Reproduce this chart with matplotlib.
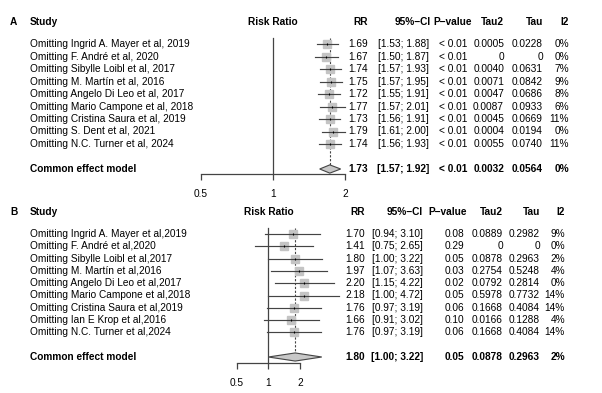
import matplotlib
matplotlib.use("Agg")
import matplotlib.pyplot as plt
import matplotlib.transforms as mtransforms

plt.rcParams['font.family'] = ['Liberation Sans', 'DejaVu Sans']

# ---------------- data ----------------
studies_A = ["Omitting Ingrid A. Mayer et al, 2019", "Omitting F. André et al, 2020",
             "Omitting Sibylle Loibl et al, 2017", "Omitting M. Martín et al, 2016",
             "Omitting Angelo Di Leo et al, 2017", "Omitting Mario Campone et al, 2018",
             "Omitting Cristina Saura et al, 2019", "Omitting S. Dent et al, 2021",
             "Omitting N.C. Turner et al, 2024"]
rr_A = [1.69, 1.67, 1.74, 1.75, 1.72, 1.77, 1.73, 1.79, 1.74]
lo_A = [1.53, 1.50, 1.57, 1.57, 1.55, 1.57, 1.56, 1.61, 1.56]
hi_A = [1.88, 1.87, 1.93, 1.95, 1.91, 2.01, 1.91, 2.00, 1.93]
p_A = ["< 0.01"] * 9
tau2_A = ["0.0005", "0", "0.0040", "0.0071", "0.0047", "0.0087", "0.0045", "0.0004", "0.0055"]
tau_A = ["0.0228", "0", "0.0631", "0.0842", "0.0686", "0.0933", "0.0669", "0.0194", "0.0740"]
i2_A = ["0%", "0%", "7%", "9%", "8%", "6%", "11%", "0%", "11%"]
common_A = dict(rr=1.73, lo=1.57, hi=1.92, p="< 0.01", tau2="0.0032", tau="0.0564", i2="0%")

studies_B = ["Omitting Ingrid A. Mayer et al,2019", "Omitting F. André et al,2020",
             "Omitting Sibylle Loibl et al,2017", "Omitting M. Martín et al,2016",
             "Omitting Angelo Di Leo et al,2017", "Omitting Mario Campone et al,2018",
             "Omitting Cristina Saura et al,2019", "Omitting Ian E Krop et al,2016",
             "Omitting N.C. Turner et al,2024"]
rr_B = [1.70, 1.41, 1.80, 1.97, 2.20, 2.18, 1.76, 1.66, 1.76]
lo_B = [0.94, 0.75, 1.00, 1.07, 1.15, 1.00, 0.97, 0.91, 0.97]
hi_B = [3.10, 2.65, 3.22, 3.63, 4.22, 4.72, 3.19, 3.02, 3.19]
p_B = ["0.08", "0.29", "0.05", "0.03", "0.02", "0.05", "0.06", "0.10", "0.06"]
tau2_B = ["0.0889", "0", "0.0878", "0.2754", "0.0792", "0.5978", "0.1668", "0.0166", "0.1668"]
tau_B = ["0.2982", "0", "0.2963", "0.5248", "0.2814", "0.7732", "0.4084", "0.1288", "0.4084"]
i2_B = ["9%", "0%", "2%", "4%", "0%", "14%", "14%", "4%", "14%"]
common_B = dict(rr=1.80, lo=1.00, hi=3.22, p="0.05", tau2="0.0878", tau="0.2963", i2="2%")

ticks = [0.5, 1, 2]
tick_labels = ["0.5", "1", "2"]
headers = ["RR", "95%\u2212CI", "P\u2212value", "Tau2", "Tau", "I2"]

# ---------------- layout ----------------
W, H = 602, 393
fig = plt.figure(figsize=(W / 100, H / 100), dpi=100)
FS = 7.3
SQ_COL = "#C4C4C4"
LN_COL = "#444444"


def panel(label, studies, rr, lo, hi, pv, tau2, tau, i2, common,
          ax_px, xlim, ylim, cols, hcols, rr_center, sq_size):
    left, right, top, bottom = ax_px
    ax = fig.add_axes([left / W, 1 - bottom / H, (right - left) / W, (bottom - top) / H])
    ax.set_xscale("log")
    ax.set_xlim(*xlim)
    ax.set_ylim(*ylim)
    ax.patch.set_alpha(0)
    for s in ["top", "right", "left"]:
        ax.spines[s].set_visible(False)
    ax.spines["bottom"].set_bounds(0.5, 2)
    ax.spines["bottom"].set_color(LN_COL)
    ax.spines["bottom"].set_linewidth(0.9)
    ax.set_yticks([])
    ax.set_xticks(ticks)
    ax.set_xticklabels(tick_labels, fontsize=FS)
    ax.minorticks_off()
    ax.tick_params(axis="x", length=4, width=0.9, color=LN_COL, pad=6.5)

    n = len(studies)
    rows = list(range(1, n + 1))
    crow = n + 2
    # reference line at 1
    ax.plot([1, 1], [0.5, ylim[0]], color=LN_COL, lw=0.9, clip_on=False)
    # dashed common effect line
    ax.plot([common["rr"], common["rr"]], [0.5, crow], color=LN_COL, lw=0.8,
            ls=(0, (2, 1.5)), zorder=1)
    # squares, CI lines, point marks
    ax.plot(rr, rows, ls="none", marker="s", ms=sq_size, mfc=SQ_COL, mec=SQ_COL, zorder=2)
    for y, l, h in zip(rows, lo, hi):
        ax.plot([l, h], [y, y], color=LN_COL, lw=0.85, zorder=3, clip_on=False)
    ax.plot(rr, rows, ls="none", marker="|", ms=2, mew=0.8, color="black", zorder=4)
    # diamond
    hh = 0.33
    ax.fill([common["lo"], common["rr"], common["hi"], common["rr"]],
            [crow, crow - hh, crow, crow + hh],
            facecolor="#C8C8C8", edgecolor=LN_COL, lw=0.8, zorder=3)

    tr = mtransforms.blended_transform_factory(fig.transFigure, ax.transData)
    hrow = -0.8
    fx = lambda px: px / W
    fig.text(fx(10), hrow, label, transform=tr, fontsize=FS, fontweight="bold", va="center")
    fig.text(fx(30), hrow, "Study", transform=tr, fontsize=FS, fontweight="bold", va="center")
    fig.text(fx(rr_center), hrow, "Risk Ratio", transform=tr, fontsize=FS,
             fontweight="bold", va="center", ha="center")
    for h_, c in zip(headers, hcols):
        fig.text(fx(c), hrow, h_, transform=tr, fontsize=FS, fontweight="bold",
                 va="center", ha="right")
    for y, s, r, l, h, p, t2, t, q in zip(rows, studies, rr, lo, hi, pv, tau2, tau, i2):
        fig.text(fx(30), y, s, transform=tr, fontsize=FS, va="center")
        vals = [f"{r:.2f}", f"[{l:.2f}; {h:.2f}]", p, t2, t, q]
        for v, c in zip(vals, cols):
            fig.text(fx(c), y, v, transform=tr, fontsize=FS, va="center", ha="right")
    fig.text(fx(30), crow, "Common effect model", transform=tr, fontsize=FS,
             fontweight="bold", va="center")
    cvals = [f"{common['rr']:.2f}", f"[{common['lo']:.2f}; {common['hi']:.2f}]",
             common["p"], common["tau2"], common["tau"], common["i2"]]
    for v, c in zip(cvals, cols):
        fig.text(fx(c), crow, v, transform=tr, fontsize=FS, fontweight="bold",
                 va="center", ha="right")
    return ax


# panel A: pixel mapping x_px = 272.7 + 72.2*log2(x); rows y_px = 44 + 12.5*(i-1)
pxA = (190, 360, 35, 174)
xlimA = (2 ** ((190 - 272.7) / 72.2), 2 ** ((360 - 272.7) / 72.2))
ylimA = (1 + (174 - 44) / 12.5, 1 + (35 - 44) / 12.5)
panel("A", studies_A, rr_A, lo_A, hi_A, p_A, tau2_A, tau_A, i2_A, common_A,
      pxA, xlimA, ylimA,
      [368, 429, 467, 504, 543, 569],
      [368, 431, 472, 504, 543, 569], 272.5, 5.8)

# panel B: x_px = 268.3 + 31.7*log2(x); rows y_px = 234 + 12.3*(i-1)
pxB = (225, 350, 222, 363)
xlimB = (2 ** ((225 - 268.3) / 31.7), 2 ** ((350 - 268.3) / 31.7))
ylimB = (1 + (363 - 234) / 12.3, 1 + (222 - 234) / 12.3)
panel("B", studies_B, rr_B, lo_B, hi_B, p_B, tau2_B, tau_B, i2_B, common_B,
      pxB, xlimB, ylimB,
      [365, 423, 464, 503, 540, 565],
      [365, 423, 467, 503, 540, 565], 269, 6.3)

fig.savefig("out.png", dpi=100)
